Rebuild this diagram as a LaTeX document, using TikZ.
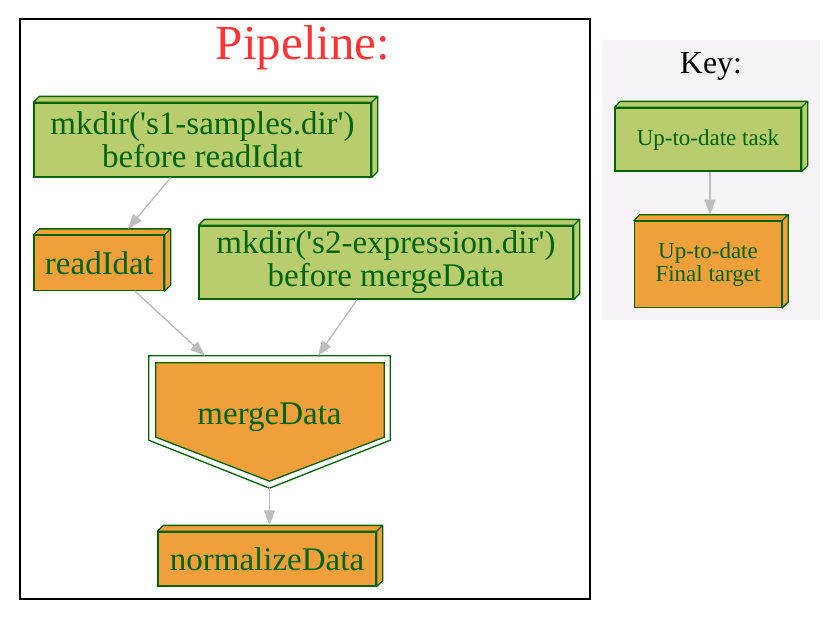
\documentclass[tikz,border=0pt]{standalone}
\usepackage{fontspec}
\setmainfont{Liberation Serif}
\usetikzlibrary{arrows.meta,positioning}

\definecolor{dkgreen}{HTML}{006400}
\definecolor{taskgreen}{HTML}{BACD6E}
\definecolor{targetorange}{HTML}{EFA03B}
\definecolor{keygrey}{HTML}{F5F3F5}
\definecolor{edgegrey}{HTML}{BEBEBE}
\definecolor{titlered}{HTML}{FF3333}

\tikzset{
	task box/.style={
			draw=dkgreen, line width=1.3pt, fill=#1, text=dkgreen,
			inner sep=0pt, align=center,
			append after command={
					\pgfextra{
						\filldraw[draw=dkgreen, fill=#1, line width=1.3pt, line join=round]
						(\tikzlastnode.north west) -- ++(6,-6) -- ([shift={(6,-6)}]\tikzlastnode.north east)
						-- (\tikzlastnode.north east) -- cycle
						(\tikzlastnode.north east) -- ++(6,-6) -- ([shift={(6,-6)}]\tikzlastnode.south east)
						-- (\tikzlastnode.south east) -- cycle;
					}
				},
		},
	big font/.style={font=\fontsize{33}{33}\selectfont},
	key font/.style={font=\fontsize{23}{23}\selectfont},
	flow/.style={draw=edgegrey, line width=1.4pt,
			-{Triangle[length=15pt,width=11pt]}},
}

\begin{document}
\begin{tikzpicture}[x=1pt, y=-1pt]
	\useasboundingbox (0,0) rectangle (840,619);
	% pipeline cluster
	\draw[line width=1.3pt] (20,19) rectangle (590,599);
	\node[text=titlered, font=\fontsize{49}{49}\selectfont] (title) at (303,48) {Pipeline:};
	%
	\node[task box=taskgreen, big font, minimum width=337pt, minimum height=74pt]
	(mkdirA) at (202.5,140) {mkdir(\textquotesingle s1-samples.dir\textquotesingle)\\before readIdat};
	\node[task box=targetorange, big font, minimum width=130pt, minimum height=55pt]
	(readIdat) at (99,263) {readIdat};
	\node[task box=taskgreen, big font, minimum width=374pt, minimum height=73pt]
	(mkdirB) at (386,262.5) {mkdir(\textquotesingle s2-expression.dir\textquotesingle)\\before mergeData};
	%
	\node[text=dkgreen, big font, minimum width=241pt, minimum height=118pt, inner sep=0pt]
	(merge) at (269.5,415) {};
	\filldraw[draw=dkgreen, fill=white, line width=1.3pt]
	(merge.north west) -- (merge.north east) -- ([shift={(0,-34)}]merge.south east)
	-- ([shift={(0,14)}]merge.south) -- ([shift={(0,-34)}]merge.south west) -- cycle;
	\filldraw[draw=dkgreen, fill=targetorange, line width=1.3pt]
	([shift={(7,7)}]merge.north west) -- ([shift={(-6,7)}]merge.north east)
	-- ([shift={(-6,-37)}]merge.south east) -- ([shift={(0,7)}]merge.south)
	-- ([shift={(7,-37)}]merge.south west) -- cycle;
	\node[text=dkgreen, big font] at ([shift={(0,2)}]merge.center) {mergeData};
	%
	\node[task box=targetorange, big font, minimum width=218pt, minimum height=54pt]
	(normalize) at (267,559) {normalizeData};
	%
	\draw[flow] ([shift={(-32,0)}]mkdirA.south) -- ([shift={(29,-6)}]readIdat.north);
	\draw[flow] ([shift={(36,0)}]readIdat.south) -- ([shift={(-64.5,0)}]merge.north);
	\draw[flow] ([shift={(-29,0)}]mkdirB.south) -- ([shift={(48.5,0)}]merge.north);
	\draw[flow] ([shift={(0,14)}]merge.south) -- ([shift={(2.5,-6)}]normalize.north);
	% key
	\fill[keygrey] (602,40) rectangle (820,320);
	\node[font=\fontsize{32}{32}\selectfont] (keytitle) at (711,66) {Key:};
	\node[task box=taskgreen, key font, minimum width=186pt, minimum height=63pt]
	(uptodate) at (708,139.5) {Up-to-date task};
	\node[task box=targetorange, key font, minimum width=147pt, minimum height=86pt,
		below=49pt of uptodate] (final) {Up-to-date\\Final target};
	\draw[flow] ([shift={(2,0)}]uptodate.south) -- ([shift={(2,-6)}]final.north);
\end{tikzpicture}
\end{document}
